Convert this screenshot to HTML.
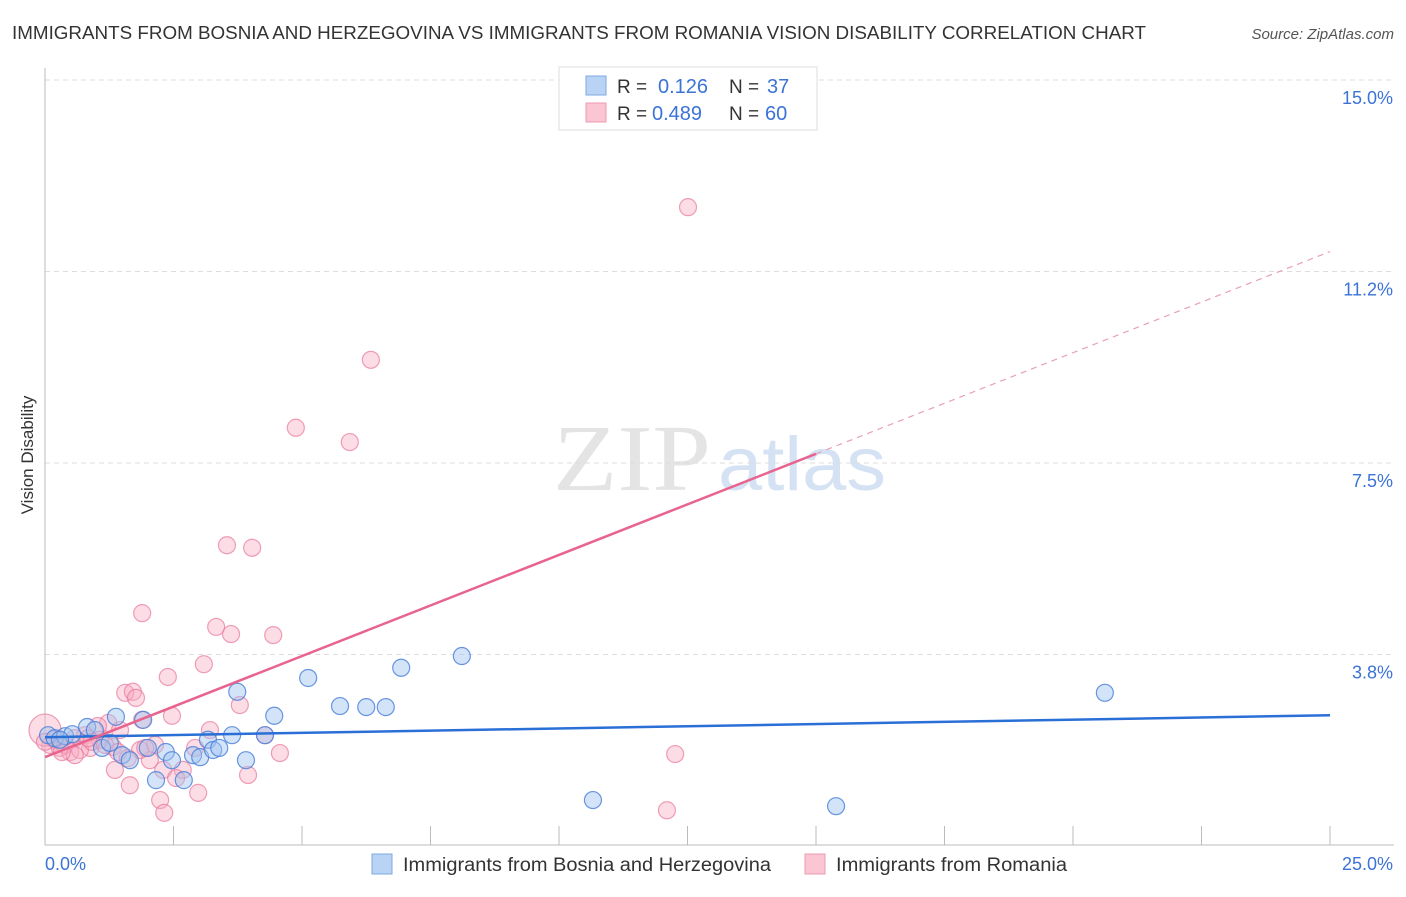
<!DOCTYPE html>
<html><head><meta charset="utf-8"><style>
body{margin:0;background:#fff;font-family:"Liberation Sans",sans-serif;}
svg text{font-family:"Liberation Sans",sans-serif;}
</style></head><body>
<svg id="chart" width="1406" height="892" viewBox="0 0 1406 892" xmlns="http://www.w3.org/2000/svg">
<text x="12" y="39" font-size="18" fill="#333" textLength="1134" lengthAdjust="spacingAndGlyphs">IMMIGRANTS FROM BOSNIA AND HERZEGOVINA VS IMMIGRANTS FROM ROMANIA VISION DISABILITY CORRELATION CHART</text>
<text x="1394" y="39" font-size="15" fill="#555" font-style="italic" text-anchor="end">Source: ZipAtlas.com</text>
<g>
<text x="553" y="490" font-size="94" fill="#e4e4e4" style="font-family:'Liberation Serif',serif" textLength="158" lengthAdjust="spacingAndGlyphs">ZIP</text>
<text x="718" y="490" font-size="76" fill="#d4e2f4" textLength="168" lengthAdjust="spacingAndGlyphs">atlas</text>
</g>
<g id="grid"></g>
<g id="axes"></g>
<text transform="translate(33,455) rotate(-90)" font-size="17" fill="#333" text-anchor="middle">Vision Disability</text>
<g id="pts"></g>
<g id="lines"></g>
<g>
<rect x="559" y="67" width="258" height="63" fill="#fff" stroke="#ddd"/>
<rect x="586" y="76" width="20" height="19" fill="#b9d3f5" stroke="#7fa8e0"/>
<rect x="586" y="103" width="20" height="19" fill="#fbc6d4" stroke="#ee9ab2"/>
<text x="617" y="93" font-size="19" fill="#333">R = </text><text x="658" y="93" font-size="20" fill="#3b73d6">0.126</text>
<text x="729" y="93" font-size="19" fill="#333">N = </text><text x="767" y="93" font-size="20" fill="#3b73d6">37</text>
<text x="617" y="120" font-size="19" fill="#333">R = </text><text x="652" y="120" font-size="20" fill="#3b73d6">0.489</text>
<text x="729" y="120" font-size="19" fill="#333">N = </text><text x="765" y="120" font-size="20" fill="#3b73d6">60</text>
</g>
<g>
<rect x="372" y="854" width="20" height="20" fill="#b9d3f5" stroke="#7fa8e0"/>
<text x="403" y="871" font-size="19" fill="#333" textLength="368" lengthAdjust="spacingAndGlyphs">Immigrants from Bosnia and Herzegovina</text>
<rect x="805" y="854" width="20" height="20" fill="#fbc6d4" stroke="#ee9ab2"/>
<text x="836" y="871" font-size="19" fill="#333" textLength="231" lengthAdjust="spacingAndGlyphs">Immigrants from Romania</text>
</g>
</svg>
<script>
const yTicks=[3.75,7.5,11.25,15];
const yTickLabels=["3.8%","7.5%","11.2%","15.0%"];
const xTickCount=10;
const xLabels=["0.0%","25.0%"];
const blueX=[0.06,0.19,0.39,0.53,0.82,0.97,1.11,1.26,1.38,1.50,1.65,1.91,2.00,2.16,2.35,2.47,2.70,2.88,3.02,3.17,3.27,3.39,3.64,3.74,3.91,4.28,4.46,5.12,5.74,6.25,6.63,6.93,8.11,10.66,15.39,20.62,0.29];
const blueY=[2.17,2.11,2.15,2.19,2.33,2.27,1.92,2.02,2.53,1.78,1.68,2.47,1.92,1.29,1.84,1.68,1.29,1.78,1.74,2.08,1.88,1.92,2.17,3.02,1.68,2.17,2.55,3.29,2.74,2.72,2.72,3.49,3.72,0.90,0.78,3.00,2.08];
const pinkX=[12.51,6.34,4.88,5.93,3.54,4.03,1.89,3.33,3.62,4.44,3.09,2.39,1.56,1.71,1.77,3.79,2.47,1.89,1.23,1.03,3.21,4.28,1.46,0.78,0.58,2.92,2.14,4.57,12.26,0.10,0.29,0.49,0.88,1.07,1.32,2.04,2.30,2.68,1.36,3.95,1.65,2.55,2.98,2.24,2.32,12.10,0.19,0.39,0.68,0.91,1.17,1.85,0.84,0.58,0.33,1.42,1.61,0.00,0.00,1.95];
const pinkY=[12.51,9.52,8.19,7.91,5.89,5.84,4.56,4.29,4.15,4.13,3.56,3.31,3.00,3.02,2.90,2.76,2.55,2.47,2.41,2.35,2.27,2.17,2.27,2.17,2.11,1.92,1.98,1.82,1.80,1.98,1.92,1.84,1.92,2.08,1.94,1.68,1.49,1.49,1.49,1.39,1.19,1.33,1.04,0.90,0.65,0.70,2.08,1.98,1.88,2.04,1.98,1.88,2.11,1.78,1.84,1.84,1.72,2.27,2.04,1.92];
const blueTrend=[2.13,2.56];
const pinkTrend=[1.74,11.64];
const pinkSolidEnd=15;

const NS="http://www.w3.org/2000/svg";
const X0=45,X1=1330,Y0=846,YPX=191.5/3.75;
const sx=v=>X0+v/25*(X1-X0);
const sy=v=>Y0-v*YPX;
function mk(tag,attrs,parent){const e=document.createElementNS(NS,tag);for(const k in attrs)e.setAttribute(k,attrs[k]);parent.appendChild(e);return e;}
const grid=document.getElementById('grid'),axes=document.getElementById('axes');
yTicks.forEach((t,i)=>{
  const l=mk('line',{x1:X0,x2:1394,y1:sy(t),y2:sy(t),stroke:'#ddd','stroke-dasharray':'5,4'},grid);
  
  
  const tx=mk('text',{x:1393,y:sy(t)+24,'font-size':18,fill:'#3b73d6','text-anchor':'end'},axes);
  tx.textContent=yTickLabels[i];
  
  
});
const ya=mk('line',{x1:X0,x2:X0,y1:68,y2:845,stroke:'#bbb'},axes);


const xa=mk('line',{x1:X0,x2:1394,y1:845,y2:845,stroke:'#bbb'},axes);


for(let i=1;i<=xTickCount;i++){
  const t=mk('line',{x1:sx(i*2.5),x2:sx(i*2.5),y1:826,y2:845,stroke:'#bbb'},axes);
  
  
}
const xl0=mk('text',{x:45,y:870,'font-size':18,fill:'#3b73d6'},axes);xl0.textContent=xLabels[0];


const xl1=mk('text',{x:1393,y:870,'font-size':18,fill:'#3b73d6','text-anchor':'end'},axes);xl1.textContent=xLabels[1];


const pts=document.getElementById('pts');
pinkX.forEach((v,i)=>{
  const c=mk('circle',{cx:sx(v),cy:sy(pinkY[i]),r:(v===0&&i===57)?16:8.5,fill:'rgba(248,170,192,0.4)',stroke:'rgba(232,120,155,0.7)','stroke-width':1.2},pts);
  
  
});
blueX.forEach((v,i)=>{
  const c=mk('circle',{cx:sx(v),cy:sy(blueY[i]),r:8.5,fill:'rgba(160,196,240,0.45)',stroke:'rgba(70,125,215,0.8)','stroke-width':1.2},pts);
  
  
});
const lines=document.getElementById('lines');
const bl=mk('line',{x1:sx(0),y1:sy(blueTrend[0]),x2:sx(25),y2:sy(blueTrend[1]),stroke:'#2a6fd6','stroke-width':2.5},lines);


const pAt=x=>pinkTrend[0]+(pinkTrend[1]-pinkTrend[0])*x/25;
const pl=mk('line',{x1:sx(0),y1:sy(pinkTrend[0]),x2:sx(pinkSolidEnd),y2:sy(pAt(pinkSolidEnd)),stroke:'#e8648f','stroke-width':2.5},lines);


const pd=mk('line',{x1:sx(pinkSolidEnd),y1:sy(pAt(pinkSolidEnd)),x2:sx(25),y2:sy(pinkTrend[1]),stroke:'#e8a0b5','stroke-width':1.2,'stroke-dasharray':'6,5'},lines);


</script>
</body></html>
